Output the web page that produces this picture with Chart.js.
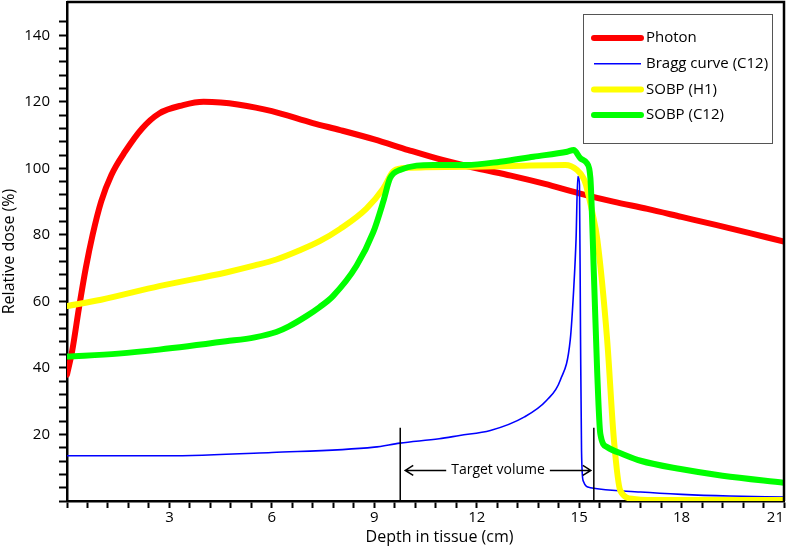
<!DOCTYPE html>
<html>
<head>
<meta charset="utf-8">
<script src="https://cdn.jsdelivr.net/npm/chart.js@4/dist/chart.umd.min.js"></script>
<style>
  html, body { margin: 0; padding: 0; background: #fff; }
  canvas { display: block; }
</style>
</head>
<body>
<canvas id="doseChart" width="787" height="546"></canvas>
<script>
// depth (cm) / relative dose (%)
const photonDepth = [0, 0.15, 0.35, 0.55, 0.75, 1.0, 1.3, 1.7, 2.2, 2.7, 3.4, 4.0, 4.5, 5.0, 6.0, 7.2, 8.0, 9.0, 10.0, 11.0, 12.0, 13.0, 14.0, 15.0, 16.0, 17.0, 18.0, 19.0, 20.0, 21.0];
const photonDose = [38, 45, 58, 70, 80, 90, 98, 105, 112, 116.5, 119, 120, 119.8, 119.2, 117.2, 113.6, 111.5, 108.7, 105.5, 102.5, 100, 97.8, 95.3, 92.5, 90, 87.8, 85.4, 83, 80.5, 78];

const braggDepth = [0, 2.9, 6.0, 9.0, 9.75, 10.9, 11.5, 12.4, 13.4, 14.05, 14.45, 14.74, 14.84, 14.91, 14.96, 15.01, 15.04, 15.07, 15.12, 15.33, 16.8, 18.0, 19.4, 21.0];
const braggDose = [13.6, 13.6, 14.6, 16.2, 17.4, 18.7, 19.7, 21.2, 25.3, 30.3, 36.4, 48.5, 63.6, 78.8, 97.5, 95, 50, 15, 6, 4, 2.7, 2, 1.5, 1.2];

const sobpH1Depth = [0, 1.0, 2.7, 4.66, 5.5, 6.13, 6.8, 7.4, 8.0, 8.77, 9.26, 9.55, 9.8, 10.5, 11.7, 13.0, 14.6, 14.94, 15.13, 15.2, 15.4, 15.53, 15.82, 16.02, 16.21, 16.6, 17.0, 21.0];
const sobpH1Dose = [58.6, 60.5, 64.6, 68.7, 70.8, 72.6, 75.3, 78.1, 81.8, 87.9, 93.9, 99, 100, 100.3, 100.5, 100.7, 101, 99.5, 97, 95, 86, 78.8, 48.5, 18.2, 3, 0.6, 0.3, 0.3];

const sobpC12Depth = [0, 1.5, 2.7, 4.66, 5.5, 6.13, 6.5, 7.0, 7.4, 7.79, 8.48, 8.97, 9.26, 9.46, 9.75, 10.73, 11.7, 12.69, 13.66, 14.65, 14.84, 15.04, 15.23, 15.33, 15.43, 15.53, 15.62, 15.82, 16.3, 16.8, 17.97, 19.2, 21.0];
const sobpC12Dose = [43.4, 44.3, 45.5, 48, 49.2, 50.8, 52.5, 55.5, 58.3, 61.6, 70.7, 80.8, 89.9, 97, 99.5, 101, 101, 102, 103.5, 105, 105.5, 103, 101.5, 97, 68.7, 38.4, 20.2, 16.2, 14, 12.1, 9.6, 7.6, 5.5];

const xTickLabels = [3, 6, 9, 12, 15, 18, 21];
const yTickLabels = [20, 40, 60, 80, 100, 120, 140];

// target volume markers: proximal / distal edge, marker height, arrow level
const targetEdges = [9.76, 15.43];
const targetMarkTop = 22;
const targetArrowLevel = 9.2;
const targetLabel = 'Target volume';

const legendItems = [
  { label: 'Photon', color: '#ff0000', width: 6 },
  { label: 'Bragg curve (C12)', color: '#0000ff', width: 1.5 },
  { label: 'SOBP (H1)', color: '#ffff00', width: 6 },
  { label: 'SOBP (C12)', color: '#00ff00', width: 6 }
];

const FONT = '"Open Sans", "Noto Sans", sans-serif';

function toPoints(xs, ys) {
  return xs.map((x, i) => ({ x: x, y: ys[i] }));
}

function isLabelled(value, list) {
  return list.some(v => Math.abs(v - value) < 1e-6);
}

const framePlugin = {
  id: 'frame',
  afterDraw(chart) {
    const { ctx, chartArea } = chart;
    ctx.save();
    ctx.strokeStyle = '#000';
    ctx.lineWidth = 2.5;
    ctx.beginPath();
    ctx.moveTo(chartArea.left, chartArea.top);
    ctx.lineTo(chartArea.right, chartArea.top);
    ctx.lineTo(chartArea.right, chartArea.bottom);
    ctx.stroke();

    // x axis title sits a bit right of the plot centre in the original
    ctx.font = '16px ' + FONT;
    ctx.fillStyle = '#000';
    ctx.textAlign = 'center';
    ctx.textBaseline = 'middle';
    ctx.fillText('Depth in tissue (cm)', (chartArea.left + chartArea.right) / 2 + 14, 537);
    ctx.restore();
  }
};

const targetPlugin = {
  id: 'targetVolume',
  afterDatasetsDraw(chart) {
    const { ctx, scales } = chart;
    const x = scales.x, y = scales.y;
    const x0 = x.getPixelForValue(targetEdges[0]);
    const x1 = x.getPixelForValue(targetEdges[1]);
    const yTop = y.getPixelForValue(targetMarkTop);
    const yBase = y.getPixelForValue(0);
    const yArrow = y.getPixelForValue(targetArrowLevel);

    ctx.save();
    ctx.strokeStyle = '#000';
    ctx.lineWidth = 1.5;
    ctx.beginPath();
    [x0, x1].forEach(px => {
      ctx.moveTo(px, yTop);
      ctx.lineTo(px, yBase);
    });
    ctx.stroke();

    ctx.font = '14px ' + FONT;
    ctx.fillStyle = '#000';
    ctx.textAlign = 'center';
    ctx.textBaseline = 'middle';
    const mid = (x0 + x1) / 2 + 1;
    const half = ctx.measureText(targetLabel).width / 2;
    ctx.fillText(targetLabel, mid, yArrow);

    const gap = 5;
    const tipL = x0 + 5, tipR = x1 - 3;
    ctx.lineWidth = 1.5;
    ctx.beginPath();
    ctx.moveTo(mid - half - gap, yArrow);
    ctx.lineTo(tipL, yArrow);
    ctx.moveTo(tipL + 8, yArrow - 5);
    ctx.lineTo(tipL, yArrow);
    ctx.lineTo(tipL + 8, yArrow + 5);
    ctx.moveTo(mid + half + gap, yArrow);
    ctx.lineTo(tipR, yArrow);
    ctx.moveTo(tipR - 8, yArrow - 5);
    ctx.lineTo(tipR, yArrow);
    ctx.lineTo(tipR - 8, yArrow + 5);
    ctx.stroke();
    ctx.restore();
  }
};

const legendPlugin = {
  id: 'boxLegend',
  afterDraw(chart) {
    const { ctx } = chart;
    const box = { left: 583, top: 14, width: 189, height: 129 };
    ctx.save();
    ctx.fillStyle = '#fff';
    ctx.fillRect(box.left, box.top, box.width, box.height);
    ctx.strokeStyle = '#555';
    ctx.lineWidth = 1;
    ctx.strokeRect(box.left + 0.5, box.top + 0.5, box.width, box.height);

    ctx.font = '15px ' + FONT;
    ctx.textAlign = 'left';
    ctx.textBaseline = 'middle';
    legendItems.forEach((item, i) => {
      const rowY = box.top + 24 + i * 25.7;
      ctx.strokeStyle = item.color;
      ctx.lineWidth = item.width;
      ctx.lineCap = item.width > 2 ? 'round' : 'butt';
      ctx.beginPath();
      ctx.moveTo(box.left + 11, rowY);
      ctx.lineTo(box.left + 58, rowY);
      ctx.stroke();
      ctx.fillStyle = '#000';
      ctx.fillText(item.label, box.left + 63, rowY);
    });
    ctx.restore();
  }
};

function initDoseChart() {
  const canvas = document.getElementById('doseChart');
  const tickFont = { family: FONT, size: 15 };

  new Chart(canvas, {
    type: 'line',
    data: {
      datasets: [
        { label: 'SOBP (C12)', data: toPoints(sobpC12Depth, sobpC12Dose), borderColor: '#00ff00', borderWidth: 6, order: 1 },
        { label: 'SOBP (H1)', data: toPoints(sobpH1Depth, sobpH1Dose), borderColor: '#ffff00', borderWidth: 6, order: 2 },
        { label: 'Bragg curve (C12)', data: toPoints(braggDepth, braggDose), borderColor: '#0000ff', borderWidth: 1.6, order: 3 },
        { label: 'Photon', data: toPoints(photonDepth, photonDose), borderColor: '#ff0000', borderWidth: 6, order: 4 }
      ]
    },
    options: {
      responsive: false,
      animation: false,
      layout: { padding: { top: 2, right: 3, left: 0, bottom: 0 } },
      elements: {
        point: { radius: 0 },
        line: { borderJoinStyle: 'round', borderCapStyle: 'round', cubicInterpolationMode: 'monotone' }
      },
      plugins: { legend: { display: false }, tooltip: { enabled: false } },
      scales: {
        x: {
          type: 'linear',
          min: 0,
          max: 21,
          ticks: {
            stepSize: 0.6,
            autoSkip: false,
            maxRotation: 0,
            align: 'inner',
            padding: 1,
            color: '#000',
            font: tickFont,
            callback: v => isLabelled(v, xTickLabels) ? String(Math.round(v)) : ''
          },
          grid: { drawOnChartArea: false, tickLength: 7, tickColor: '#000', tickWidth: 2 },
          border: { color: '#000', width: 2.5 },
          title: { display: false },
          afterFit: s => {
            s.height = 45;
            s.paddingLeft = 0;
            s.paddingRight = 0;
          }
        },
        y: {
          min: 0,
          max: 150,
          ticks: {
            stepSize: 4,
            autoSkip: false,
            padding: 9,
            color: '#000',
            font: tickFont,
            callback: v => isLabelled(v, yTickLabels) ? String(v) : ''
          },
          afterBuildTicks: s => { s.ticks = s.ticks.filter(t => t.value <= 148); },
          grid: { drawOnChartArea: false, tickLength: 8, tickColor: '#000', tickWidth: 2 },
          border: { color: '#000', width: 2.5 },
          title: { display: true, text: 'Relative dose (%)', color: '#000', font: { family: FONT, size: 16 }, padding: { top: 0, bottom: 0 } },
          afterFit: s => {
            s.width = 67;
            s.paddingTop = 0;
            s.paddingBottom = 0;
          }
        }
      }
    },
    plugins: [framePlugin, targetPlugin, legendPlugin]
  });
}

initDoseChart();
</script>
</body>
</html>
